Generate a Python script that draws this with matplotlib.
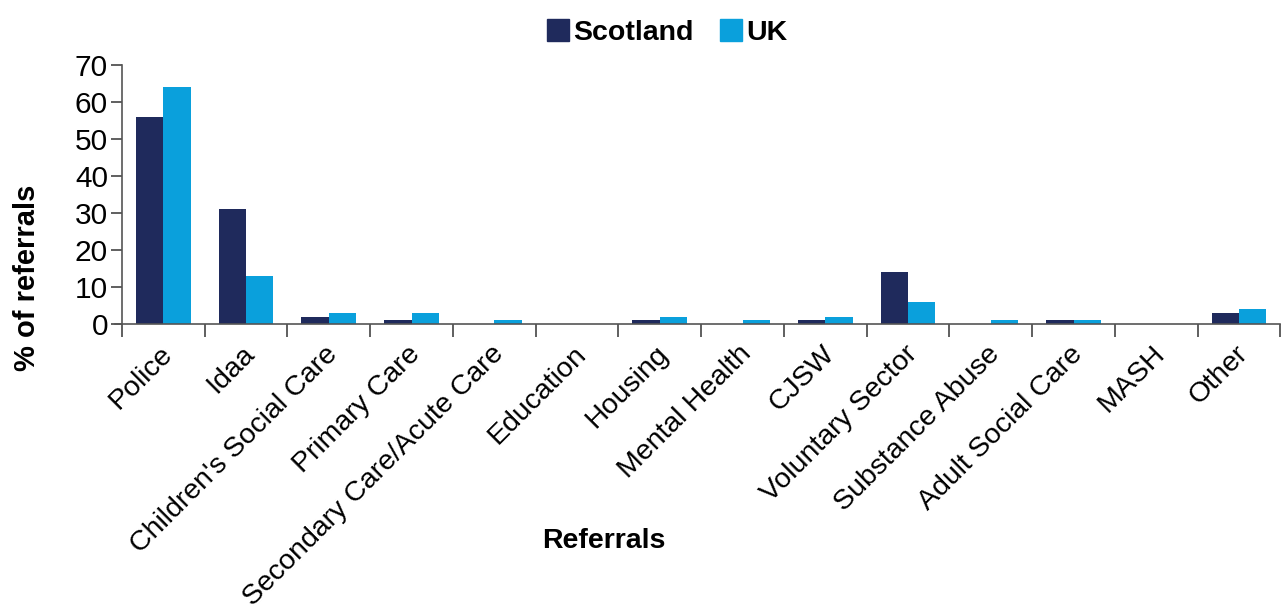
import matplotlib
matplotlib.use("Agg")
import matplotlib.pyplot as plt
import numpy as np
from matplotlib.patches import Patch

plt.rcParams['font.family'] = ['Liberation Sans', 'DejaVu Sans']

categories = ["Police", "Idaa", "Children's Social Care", "Primary Care",
              "Secondary Care/Acute Care", "Education", "Housing", "Mental Health",
              "CJSW", "Voluntary Sector", "Substance Abuse", "Adult Social Care",
              "MASH", "Other"]
scotland = [56, 31, 2, 1, 0, 0, 1, 0, 1, 14, 0, 1, 0, 3]
uk = [64, 13, 3, 3, 1, 0, 2, 1, 2, 6, 1, 1, 0, 4]
yticks = [0, 10, 20, 30, 40, 50, 60, 70]

c_scot = '#1f2a5c'
c_uk = '#0aa0dc'

fig = plt.figure(figsize=(12.83, 6.14), dpi=100)
ax = fig.add_axes([0.095, 0.472, 0.903, 0.422])

x = np.arange(len(categories))
w = 0.33
ax.bar(x - w/2, scotland, w, color=c_scot)
ax.bar(x + w/2, uk, w, color=c_uk)

ax.set_xlim(-0.5, len(categories) - 0.5)
ax.set_ylim(0, 70)
ax.set_yticks(yticks)
ax.tick_params(axis='y', labelsize=21.5, length=8, width=1.2, color='#444444', pad=2)

ax.set_xticks(np.arange(len(categories) + 1) - 0.5)
ax.set_xticklabels([])
ax.tick_params(axis='x', which='major', length=9, width=1.2, color='#444444', direction='out')
ax.set_xticks(x - 0.05, minor=True)
ax.set_xticklabels(categories, minor=True, rotation=45, ha='right',
                   rotation_mode='anchor', fontsize=20.5)
ax.tick_params(axis='x', which='minor', length=0, pad=12)

for s in ['top', 'right']:
    ax.spines[s].set_visible(False)
for s in ['left', 'bottom']:
    ax.spines[s].set_color('#555555')
    ax.spines[s].set_linewidth(1.2)
ax.spines['bottom'].set_bounds(-0.58, len(categories) - 0.5)

fig.text(0.021, 0.548, '% of referrals', rotation=90, fontsize=21, fontweight='bold',
         ha='center', va='center')
fig.text(604 / 1283, 1 - 541 / 614, 'Referrals', fontsize=20.5, fontweight='bold',
         ha='center', va='center')

handles = [Patch(color=c_scot, label='Scotland'), Patch(color=c_uk, label='UK')]
fig.legend(handles=handles, loc='upper center', bbox_to_anchor=(0.52, 1.01), ncol=2,
           frameon=False, prop={'size': 20.5, 'weight': 'bold'},
           handlelength=0.8, handleheight=0.8, handletextpad=0.15, columnspacing=0.9)

fig.savefig('out.png', dpi=100)
